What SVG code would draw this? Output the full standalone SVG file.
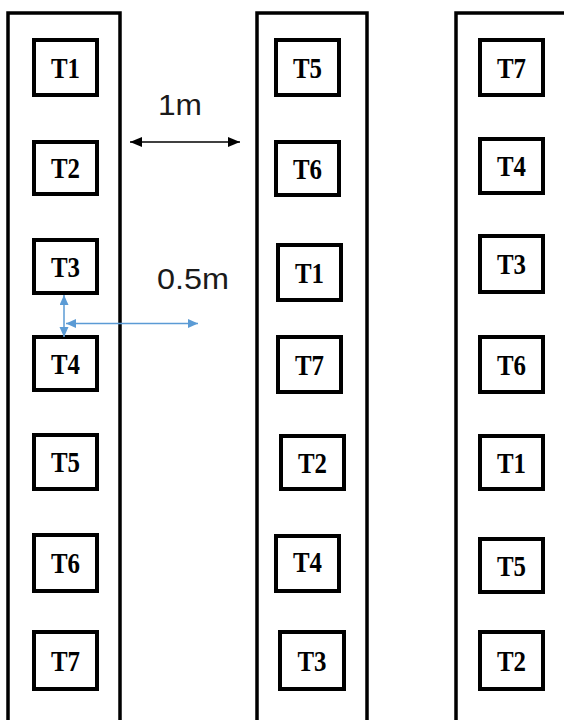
<svg xmlns="http://www.w3.org/2000/svg" width="564" height="720" viewBox="0 0 564 720">
<style>
.col{fill:none;stroke:#000;stroke-width:3.5}
.box{fill:#fff;stroke:#000;stroke-width:4}
.t{font-family:"Liberation Serif","Times New Roman",serif;font-weight:bold;font-size:29px;text-anchor:middle;fill:#000}
.lbl{font-family:"Liberation Sans",Arial,sans-serif;font-size:30px;fill:#1a1a1a}
.blk{stroke:#000;stroke-width:1.5;fill:none}
.blu{stroke:#5B9BD5;stroke-width:1.5;fill:none}
</style>
<defs>
<marker id="ab" markerUnits="userSpaceOnUse" markerWidth="14" markerHeight="12" refX="12" refY="5" orient="auto-start-reverse"><path d="M0,0 L12,5 L0,10 Z" fill="#000"/></marker>
<marker id="au" markerUnits="userSpaceOnUse" markerWidth="12" markerHeight="10" refX="10" refY="4.5" orient="auto-start-reverse"><path d="M0,0 L10,4.5 L0,9 Z" fill="#5B9BD5"/></marker>
</defs>
<g id="columns">
<path class="col" d="M8,724 V13 H120 V724"/>
<path class="col" d="M257,724 V13 H367 V724"/>
<path class="col" d="M456,724 V13 H568"/>
</g>
<g id="c1-T1"><rect class="box" x="34" y="40" width="63" height="55"/><text class="t" x="65.5" y="77.5" textLength="29" lengthAdjust="spacingAndGlyphs">T1</text></g>
<g id="c1-T2"><rect class="box" x="34" y="142" width="63" height="52"/><text class="t" x="65.5" y="178" textLength="29" lengthAdjust="spacingAndGlyphs">T2</text></g>
<g id="c1-T3"><rect class="box" x="34" y="240" width="63" height="53"/><text class="t" x="65.5" y="276.5" textLength="29" lengthAdjust="spacingAndGlyphs">T3</text></g>
<g id="c1-T4"><rect class="box" x="34" y="337" width="63" height="53"/><text class="t" x="65.5" y="373.5" textLength="29" lengthAdjust="spacingAndGlyphs">T4</text></g>
<g id="c1-T5"><rect class="box" x="34" y="435" width="63" height="54"/><text class="t" x="65.5" y="472" textLength="29" lengthAdjust="spacingAndGlyphs">T5</text></g>
<g id="c1-T6"><rect class="box" x="34" y="535" width="63" height="56"/><text class="t" x="65.5" y="573" textLength="29" lengthAdjust="spacingAndGlyphs">T6</text></g>
<g id="c1-T7"><rect class="box" x="34" y="632" width="63" height="57"/><text class="t" x="65.5" y="670.5" textLength="29" lengthAdjust="spacingAndGlyphs">T7</text></g>
<g id="c2-T5"><rect class="box" x="276" y="40" width="63" height="55"/><text class="t" x="307.5" y="77.5" textLength="29" lengthAdjust="spacingAndGlyphs">T5</text></g>
<g id="c2-T6"><rect class="box" x="276" y="142" width="63" height="53"/><text class="t" x="307.5" y="178.5" textLength="29" lengthAdjust="spacingAndGlyphs">T6</text></g>
<g id="c2-T1"><rect class="box" x="278" y="245" width="63" height="55"/><text class="t" x="309.5" y="282.5" textLength="29" lengthAdjust="spacingAndGlyphs">T1</text></g>
<g id="c2-T7"><rect class="box" x="278" y="337" width="63" height="55"/><text class="t" x="309.5" y="374.5" textLength="29" lengthAdjust="spacingAndGlyphs">T7</text></g>
<g id="c2-T2"><rect class="box" x="281" y="436" width="63" height="53"/><text class="t" x="312.5" y="472.5" textLength="29" lengthAdjust="spacingAndGlyphs">T2</text></g>
<g id="c2-T4"><rect class="box" x="276" y="536" width="63" height="55"/><text class="t" x="307.5" y="572" textLength="29" lengthAdjust="spacingAndGlyphs">T4</text></g>
<g id="c2-T3"><rect class="box" x="280" y="632" width="64" height="57"/><text class="t" x="312" y="670.5" textLength="29" lengthAdjust="spacingAndGlyphs">T3</text></g>
<g id="c3-T7"><rect class="box" x="480" y="40" width="63" height="55"/><text class="t" x="511.5" y="77.5" textLength="29" lengthAdjust="spacingAndGlyphs">T7</text></g>
<g id="c3-T4"><rect class="box" x="480" y="139" width="63" height="54"/><text class="t" x="511.5" y="176" textLength="29" lengthAdjust="spacingAndGlyphs">T4</text></g>
<g id="c3-T3"><rect class="box" x="480" y="236" width="63" height="56"/><text class="t" x="511.5" y="274" textLength="29" lengthAdjust="spacingAndGlyphs">T3</text></g>
<g id="c3-T6"><rect class="box" x="480" y="337" width="63" height="55"/><text class="t" x="511.5" y="374.5" textLength="29" lengthAdjust="spacingAndGlyphs">T6</text></g>
<g id="c3-T1"><rect class="box" x="480" y="436" width="63" height="53"/><text class="t" x="511.5" y="472.5" textLength="29" lengthAdjust="spacingAndGlyphs">T1</text></g>
<g id="c3-T5"><rect class="box" x="480" y="539" width="63" height="53"/><text class="t" x="511.5" y="575.5" textLength="29" lengthAdjust="spacingAndGlyphs">T5</text></g>
<g id="c3-T2"><rect class="box" x="480" y="632" width="63" height="57"/><text class="t" x="511.5" y="670.5" textLength="29" lengthAdjust="spacingAndGlyphs">T2</text></g>
<g id="connectors">
<line class="blk" x1="130" y1="142" x2="240" y2="142" marker-start="url(#ab)" marker-end="url(#ab)"/>
<line class="blu" x1="64" y1="295" x2="64" y2="337" marker-start="url(#au)" marker-end="url(#au)"/>
<line class="blu" x1="66" y1="323.5" x2="198" y2="323.5" marker-start="url(#au)" marker-end="url(#au)"/>
</g>
<g id="labels">
<text class="lbl" x="158" y="115" textLength="44" lengthAdjust="spacingAndGlyphs">1m</text>
<text class="lbl" x="157" y="289" textLength="72" lengthAdjust="spacingAndGlyphs">0.5m</text>
</g>
</svg>
